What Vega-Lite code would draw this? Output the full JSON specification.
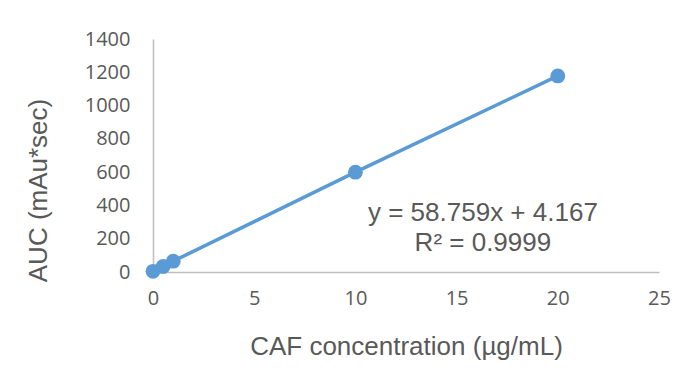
{
  "$schema": "https://vega.github.io/schema/vega-lite/v6.json",
  "autosize": {"type": "none"},
  "width": 506,
  "height": 233,
  "padding": {"left": 153, "top": 39, "right": 32, "bottom": 110},
  "background": "white",
  "config": {
    "view": {"stroke": null},
    "axis": {
      "labelFont": "Open Sans", "labelFontSize": 20, "labelColor": "#595959",
      "labelOverlap": false, "labelFlush": false,
      "titleFont": "Liberation Sans", "titleFontSize": 26, "titleFontWeight": "normal", "titleColor": "#595959",
      "grid": false, "ticks": false, "domainColor": "#BFBFBF", "domainWidth": 1.5
    }
  },
  "datasets": {
    "pts": [
      {"conc": 0, "auc": 4},
      {"conc": 0.5, "auc": 33},
      {"conc": 1, "auc": 65},
      {"conc": 10, "auc": 600},
      {"conc": 20, "auc": 1178}
    ],
    "eq": [
      {"conc": 16.3, "auc": 355, "label": "y = 58.759x + 4.167"},
      {"conc": 16.3, "auc": 175, "label": "R² = 0.9999"}
    ]
  },
  "encoding": {
    "x": {
      "field": "conc", "type": "quantitative",
      "scale": {"domain": [0, 25], "nice": false},
      "axis": {
        "values": [0, 5, 10, 15, 20, 25],
        "format": "d",
        "title": "CAF concentration (µg/mL)",
        "titleY": 74, "titleBaseline": "middle",
        "labelPadding": 16
      }
    },
    "y": {
      "field": "auc", "type": "quantitative",
      "scale": {"domain": [0, 1400], "nice": false},
      "axis": {
        "values": [0, 200, 400, 600, 800, 1000, 1200, 1400],
        "format": "d",
        "title": "AUC (mAu*sec)",
        "titleX": -115, "titleY": 151, "titleBaseline": "middle", "titleAlign": "center", "titleAngle": -90,
        "labelPadding": 23
      }
    }
  },
  "layer": [
    {
      "data": {"name": "pts"},
      "mark": {"type": "line", "color": "#5B9BD5", "strokeWidth": 3.5}
    },
    {
      "data": {"name": "pts"},
      "mark": {"type": "point", "filled": true, "color": "#5B9BD5", "size": 220, "opacity": 1}
    },
    {
      "data": {"name": "eq"},
      "mark": {"type": "text", "font": "Liberation Sans", "fontSize": 26, "color": "#595959", "align": "center", "baseline": "middle"},
      "encoding": {
        "text": {"field": "label"}
      }
    }
  ]
}
